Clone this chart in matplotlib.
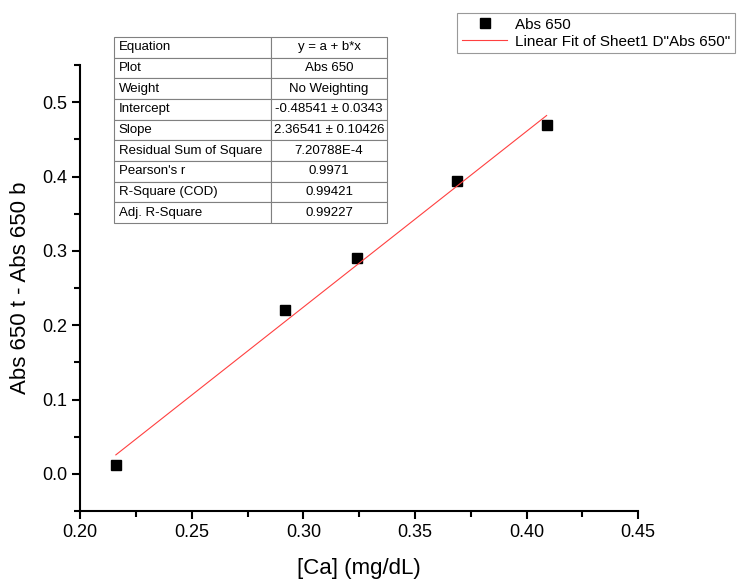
import numpy as np
import matplotlib.pyplot as plt
from matplotlib.ticker import MultipleLocator

plt.rcParams["font.family"] = ["Liberation Sans", "DejaVu Sans"]

# Data
ca = [0.216, 0.292, 0.324, 0.369, 0.409]
abs650 = [0.012, 0.221, 0.291, 0.394, 0.469]

# Fit results (as shown in the table)
intercept = -0.48541
slope = 2.36541
table_labels = ["Equation", "Plot", "Weight", "Intercept", "Slope",
                "Residual Sum of Square", "Pearson's r", "R-Square (COD)",
                "Adj. R-Square"]
table_values = ["y = a + b*x", "Abs 650", "No Weighting",
                "-0.48541 \u00b1 0.0343", "2.36541 \u00b1 0.10426",
                "7.20788E-4", "0.9971", "0.99421", "0.99227"]

fig = plt.figure(figsize=(7.42, 5.83), dpi=100)
ax = fig.add_axes([0.108, 0.1235, 0.752, 0.765])

# Data points and linear fit
ax.plot(ca, abs650, "s", color="black", markersize=7, label="Abs 650")
x_fit = np.array([min(ca), max(ca)])
ax.plot(x_fit, intercept + slope * x_fit, color="#ff4040", lw=0.8,
        label='Linear Fit of Sheet1 D"Abs 650"')

ax.set_xlim(0.20, 0.45)
ax.set_ylim(-0.05, 0.55)
ax.xaxis.set_major_locator(MultipleLocator(0.05))
ax.xaxis.set_minor_locator(MultipleLocator(0.025))
ax.set_yticks(np.arange(0.0, 0.51, 0.1))
ax.yaxis.set_minor_locator(MultipleLocator(0.05))
ax.xaxis.set_major_formatter(plt.FormatStrFormatter("%.2f"))
ax.yaxis.set_major_formatter(plt.FormatStrFormatter("%.1f"))

ax.spines["top"].set_visible(False)
ax.spines["right"].set_visible(False)
ax.spines["left"].set_linewidth(1.5)
ax.spines["bottom"].set_linewidth(1.5)
ax.tick_params(which="major", direction="out", length=6, width=1.5, labelsize=13)
ax.tick_params(which="minor", direction="out", length=4, width=1.5)

ax.set_xlabel("[Ca] (mg/dL)", fontsize=16, labelpad=12)
ax.set_ylabel("Abs 650 t - Abs 650 b", fontsize=16, labelpad=8)

# Fit result table
cells = [[lab, val] for lab, val in zip(table_labels, table_values)]
tbl = ax.table(cellText=cells, colWidths=[157 / 558, 116 / 558],
               bbox=[0.061, 0.646, 0.489, 0.417])
tbl.auto_set_font_size(False)
tbl.set_fontsize(9.5)
for (r, c), cell in tbl.get_celld().items():
    cell.set_edgecolor("#808080")
    cell.set_linewidth(0.8)
    cell.set_clip_on(False)
    if c == 0:
        cell.set_text_props(ha="left")
        cell.PAD = 0.03
    else:
        cell.set_text_props(ha="center")

leg = fig.legend(loc="upper left", bbox_to_anchor=(457 / 742, 1 - 13 / 583),
                 fontsize=11, frameon=True, fancybox=False, edgecolor="#808080",
                 borderaxespad=0, handlelength=3.0, handletextpad=0.5,
                 labelspacing=0.2, borderpad=0.3)
leg.get_frame().set_linewidth(0.8)

fig.savefig("out.png", dpi=100)
